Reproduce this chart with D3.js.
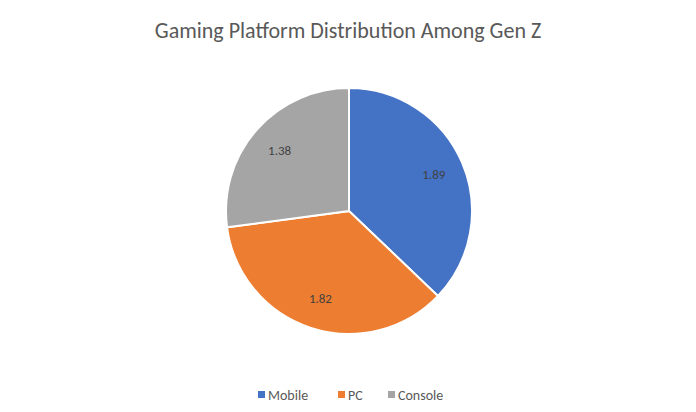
<!DOCTYPE html>
<html>
<head>
<meta charset="utf-8">
<script src="https://cdn.jsdelivr.net/npm/d3@7"></script>
<style>
  body { margin: 0; background: #fff; }
  text { font-family: Calibri, Carlito, "Open Sans", sans-serif; }
</style>
</head>
<body>
<svg id="chart" width="696" height="412"></svg>
<script>
const categories = ["Mobile", "PC", "Console"];
const values = [1.89, 1.82, 1.38];
const colors = ["#4472C4", "#ED7D31", "#A5A5A5"];

const svg = d3.select("#chart");
const width = +svg.attr("width");
const cx = 349, cy = 211, radius = 123;

svg.append("text")
    .attr("x", width / 2)
    .attr("y", 38)
    .attr("text-anchor", "middle")
    .style("font-size", "22px")
    .style("fill", "#595959")
    .text("Gaming Platform Distribution Among Gen Z");

const data = categories.map((c, i) => ({name: c, value: values[i], color: colors[i]}));
const pie = d3.pie().value(d => d.value).sort(null);
const arc = d3.arc().innerRadius(0).outerRadius(radius);
const labelArc = d3.arc().innerRadius(radius * 0.5).outerRadius(radius);

const g = svg.append("g").attr("transform", `translate(${cx},${cy})`);
const arcs = pie(data);

g.selectAll("path")
    .data(arcs)
    .join("path")
    .attr("d", arc)
    .attr("fill", d => d.data.color)
    .attr("stroke", "#fff")
    .attr("stroke-width", 2);

g.selectAll("text")
    .data(arcs)
    .join("text")
    .attr("transform", d => `translate(${labelArc.centroid(d)})`)
    .attr("text-anchor", "middle")
    .attr("dy", "0.35em")
    .style("font-size", "13px")
    .style("fill", "#404040")
    .text(d => d.data.value.toFixed(2));

// legend
const legendX = [258, 338, 388];
const legend = svg.append("g");
data.forEach((d, i) => {
  legend.append("rect")
      .attr("x", legendX[i])
      .attr("y", 391)
      .attr("width", 7)
      .attr("height", 7)
      .attr("fill", d.color);
  legend.append("text")
      .attr("x", legendX[i] + 10)
      .attr("y", 395)
      .attr("dy", "0.35em")
      .style("font-size", "14px")
      .style("fill", "#595959")
      .text(d.name);
});
</script>
</body>
</html>
